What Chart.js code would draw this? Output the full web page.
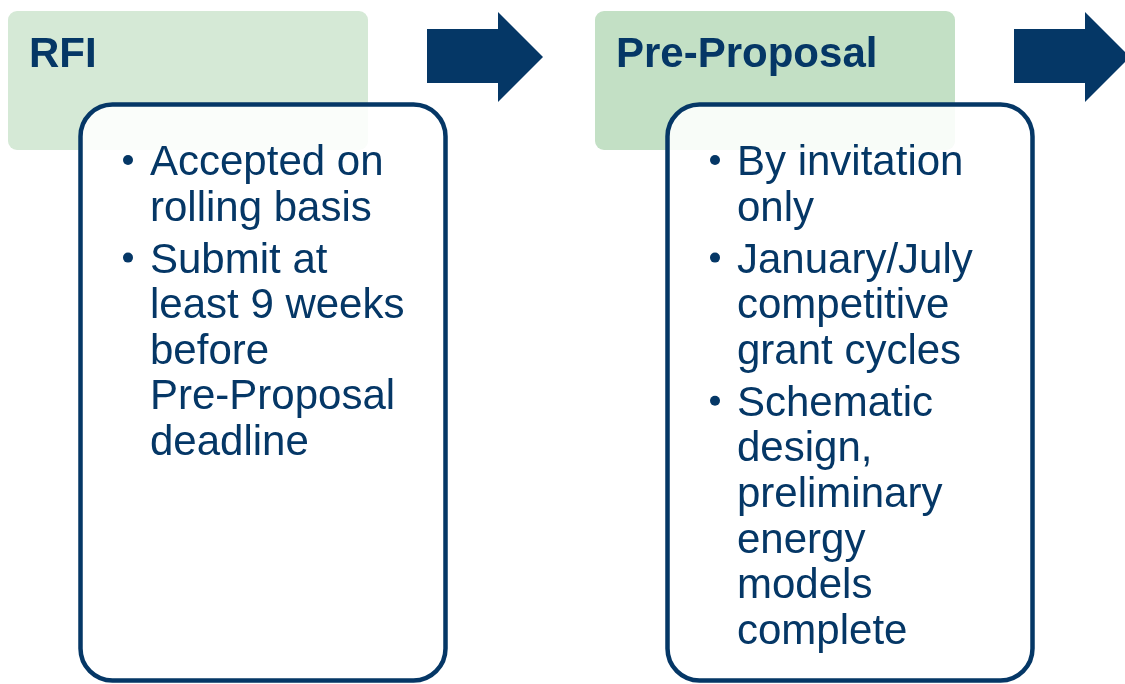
<!DOCTYPE html>
<html>
<head>
<meta charset="utf-8">
<script src="https://cdn.jsdelivr.net/npm/chart.js@4"></script>
<style>
  html, body { margin: 0; padding: 0; background: #fff; }
  #wrap { width: 1125px; height: 684px; }
</style>
</head>
<body>
<div id="wrap"><canvas id="myChart"></canvas></div>
<script>
let stages = ['RFI', 'Pre-Proposal'];
let rfiBullets = [
  ['Accepted on', 'rolling basis'],
  ['Submit at', 'least 9 weeks', 'before', 'Pre-Proposal', 'deadline']
];
let preProposalBullets = [
  ['By invitation', 'only'],
  ['January/July', 'competitive', 'grant cycles'],
  ['Schematic', 'design,', 'preliminary', 'energy', 'models', 'complete']
];
let stageBullets = [rfiBullets, preProposalBullets];

// layout in slide units (the x/y scales run 0..1125 and 0..684)
const stageLeft = [8, 595];
const headerColors = ['#d5e9d6', '#c3e0c5'];
const navy = '#053766';

function roundRect(ctx, x, y, w, h, r) {
  ctx.beginPath();
  ctx.moveTo(x + r, y);
  ctx.lineTo(x + w - r, y);
  ctx.arcTo(x + w, y, x + w, y + r, r);
  ctx.lineTo(x + w, y + h - r);
  ctx.arcTo(x + w, y + h, x + w - r, y + h, r);
  ctx.lineTo(x + r, y + h);
  ctx.arcTo(x, y + h, x, y + h - r, r);
  ctx.lineTo(x, y + r);
  ctx.arcTo(x, y, x + r, y, r);
  ctx.closePath();
}

const processPlugin = {
  id: 'process',
  afterDraw(chart) {
    const ctx = chart.ctx;
    const sx = v => chart.scales.x.getPixelForValue(v);
    const sy = v => chart.scales.y.getPixelForValue(v);
    ctx.save();
    stages.forEach((name, i) => {
      const x0 = stageLeft[i];

      // header box
      roundRect(ctx, sx(x0), sy(11), sx(x0 + 360) - sx(x0), sy(150) - sy(11), 9);
      ctx.fillStyle = headerColors[i];
      ctx.fill();

      // arrow to next stage
      ctx.beginPath();
      ctx.moveTo(sx(x0 + 419), sy(29));
      ctx.lineTo(sx(x0 + 490), sy(29));
      ctx.lineTo(sx(x0 + 490), sy(12));
      ctx.lineTo(sx(x0 + 535), sy(57));
      ctx.lineTo(sx(x0 + 490), sy(102));
      ctx.lineTo(sx(x0 + 490), sy(83));
      ctx.lineTo(sx(x0 + 419), sy(83));
      ctx.closePath();
      ctx.fillStyle = navy;
      ctx.fill();

      // body box
      roundRect(ctx, sx(x0 + 72.5), sy(104.5), sx(x0 + 437.5) - sx(x0 + 72.5), sy(680.5) - sy(104.5), 32);
      ctx.fillStyle = 'rgba(255,255,255,0.88)';
      ctx.fill();
      ctx.lineWidth = 4.5;
      ctx.strokeStyle = navy;
      ctx.stroke();

      // title
      ctx.fillStyle = navy;
      ctx.textBaseline = 'alphabetic';
      ctx.textAlign = 'left';
      ctx.font = 'bold 42px "Liberation Sans", Arial, sans-serif';
      ctx.fillText(name, sx(x0 + 21), sy(67));

      // bullets
      ctx.font = '42px "Liberation Sans", Arial, sans-serif';
      let base = 175;
      stageBullets[i].forEach((lines, b) => {
        if (b > 0) base += 6.4;
        ctx.beginPath();
        ctx.arc(sx(x0 + 120), sy(base - 15), 5, 0, Math.PI * 2);
        ctx.fill();
        lines.forEach(line => {
          ctx.fillText(line, sx(x0 + 142), sy(base));
          base += 45.6;
        });
      });
    });
    ctx.restore();
  }
};

function createChart() {
  const ctx = document.getElementById('myChart').getContext('2d');
  new Chart(ctx, {
    type: 'scatter',
    data: { datasets: [{ data: [] }] },
    options: {
      responsive: true,
      maintainAspectRatio: false,
      animation: false,
      layout: { padding: 0 },
      plugins: { legend: { display: false }, tooltip: { enabled: false } },
      scales: {
        x: { type: 'linear', min: 0, max: 1125, display: false },
        y: { type: 'linear', min: 0, max: 684, reverse: true, display: false }
      }
    },
    plugins: [processPlugin]
  });
}

window.onload = createChart;
</script>
</body>
</html>
